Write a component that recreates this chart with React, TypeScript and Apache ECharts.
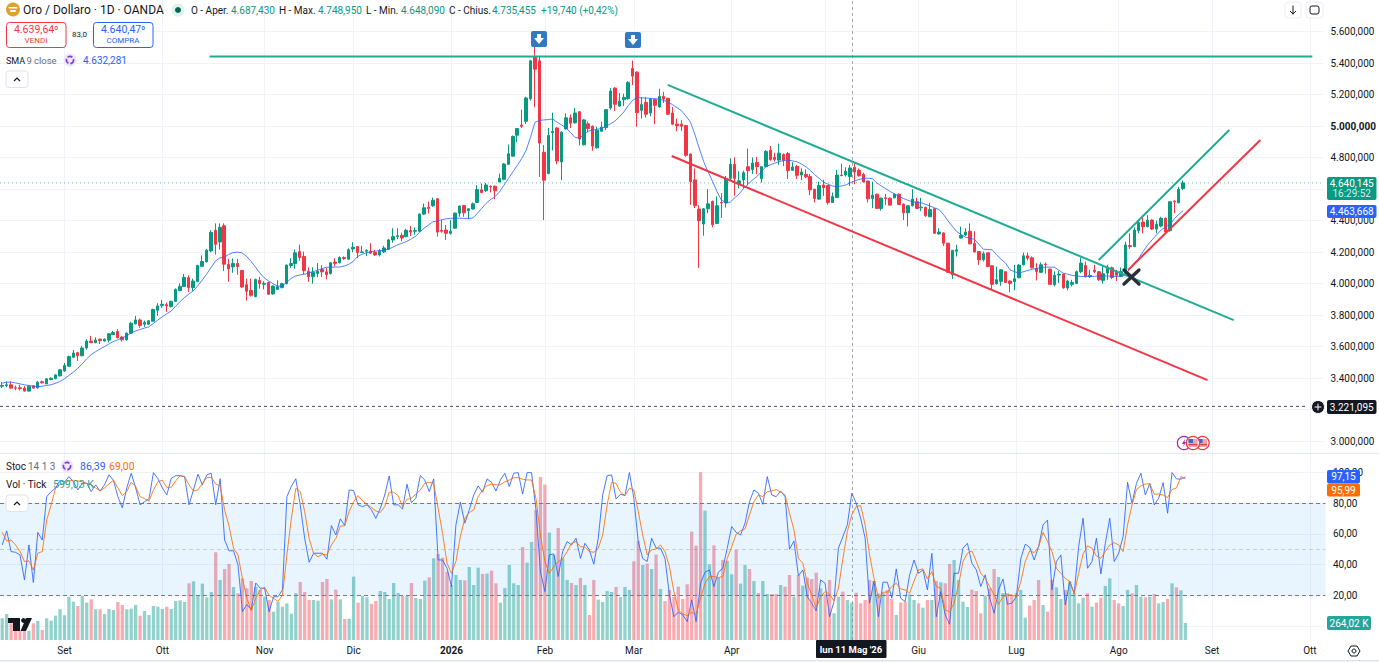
import React, { useEffect, useRef } from "react";
import * as echarts from "echarts";

const opens = [
3349,3354,3358,3339,3339,3337,3318,3352,3339,3377,
3364,3392,3398,3415,3446,3476,3533,3562,3543,3592,
3636,3625,3648,3636,3642,3678,3697,3661,3644,3686,
3745,3770,3743,3743,3762,3832,3861,3867,3855,3888,
3956,3983,4038,3975,4015,4111,4139,4208,4339,4265,
4368,4122,4107,4128,4084,3994,3958,3918,4021,3996,
4008,3935,3964,3975,4000,4116,4128,4204,4173,4079,
4044,4065,4090,4075,4065,4137,4133,4167,4156,4221,
4236,4198,4206,4206,4198,4183,4202,4219,4278,4299,
4307,4299,4337,4333,4333,4442,4486,4495,4539,4339,
4341,4320,4352,4448,4497,4463,4474,4516,4596,4590,
4619,4619,4646,4663,4758,4810,4943,5008,5031,5175,
5440,5415,4834,4699,4958,4989,4773,4983,5053,5021,
5092,4882,5015,5000,4863,4968,4991,5116,5242,5128,
5168,5175,5366,5343,5101,5151,5084,5170,5122,5189,
5177,5084,5013,5013,5004,4823,4659,4474,4379,4476,
4522,4383,4516,4512,4669,4758,4634,4659,4743,4726,
4770,4667,4743,4848,4802,4785,4821,4827,4720,4745,
4690,4695,4680,4600,4537,4627,4623,4516,4547,4690,
4690,4680,4739,4720,4695,4652,4541,4568,4478,4545,
4543,4545,4568,4505,4450,4495,4520,4482,4484,4425,
4476,4316,4322,4257,4057,4206,4290,4309,4333,4255,
4204,4152,4196,4114,4000,4015,4076,4017,4013,4038,
4120,4177,4164,4097,4072,4124,4093,3994,4055,4061,
3973,3996,4002,4076,4116,4046,4086,4076,4021,4067,
4101,4074,4046,4067,4242,4236,4337,4391,4362,4404,
4347,4366,4415,4337,4524,4514,4604];

const closes = [
3354,3358,3337,3337,3335,3318,3349,3337,3375,3371,
3396,3400,3421,3453,3480,3537,3560,3543,3592,3636,
3625,3642,3638,3648,3682,3690,3657,3644,3686,3749,
3770,3735,3754,3764,3836,3859,3869,3859,3888,3964,
3983,4040,3975,4017,4116,4141,4213,4326,4250,4358,
4124,4095,4128,4109,3979,3952,3926,4027,4000,4002,
3933,3985,3981,4000,4118,4128,4196,4166,4083,4044,
4073,4079,4075,4058,4133,4129,4167,4160,4215,4231,
4198,4202,4211,4194,4183,4208,4227,4278,4299,4305,
4290,4339,4328,4337,4442,4482,4478,4530,4328,4333,
4320,4333,4448,4493,4450,4476,4507,4598,4579,4627,
4615,4590,4669,4760,4825,4935,4985,5000,5179,5415,
5362,4893,4657,4941,4966,4779,4962,5053,5019,5084,
4918,5040,4985,4874,4975,4994,5105,5223,5139,5160,
5183,5278,5318,5086,5137,5076,5172,5133,5189,5172,
5076,5013,5002,5000,4815,4648,4495,4400,4476,4507,
4375,4495,4512,4665,4758,4669,4653,4705,4718,4766,
4743,4743,4840,4787,4789,4829,4783,4718,4741,4688,
4709,4678,4596,4541,4623,4610,4516,4554,4690,4686,
4714,4735,4709,4686,4646,4539,4562,4478,4543,4541,
4499,4568,4503,4450,4495,4537,4478,4486,4431,4471,
4320,4328,4257,4072,4211,4215,4307,4328,4253,4202,
4152,4190,4110,3996,4025,4088,4008,4002,4032,4118,
4177,4162,4101,4078,4120,4120,3996,4053,4061,3973,
4017,4008,4076,4131,4044,4053,4076,4025,4063,4105,
4040,4053,4076,4246,4236,4341,4387,4362,4404,4347,
4377,4415,4328,4520,4520,4600,4640];

const highs = [
3375,3379,3379,3354,3358,3350,3354,3354,3383,3385,
3400,3406,3425,3459,3497,3543,3579,3568,3606,3648,
3669,3659,3652,3652,3686,3701,3712,3669,3690,3758,
3796,3779,3766,3768,3842,3876,3897,3880,3892,3970,
4002,4061,4053,4032,4120,4179,4221,4339,4383,4383,
4383,4158,4160,4158,4084,4032,4032,4032,4044,4015,
4011,3989,4021,4006,4122,4162,4217,4248,4204,4104,
4104,4131,4117,4100,4138,4162,4173,4173,4225,4263,
4240,4240,4219,4257,4215,4219,4240,4284,4352,4352,
4324,4349,4366,4358,4446,4509,4522,4547,4543,4404,
4372,4404,4452,4497,4499,4476,4516,4625,4636,4640,
4623,4623,4699,4766,4884,4941,4989,5105,5187,5419,
5509,5440,4880,4989,5086,4994,4968,5082,5074,5116,
5095,5046,5029,5004,4996,5029,5109,5242,5248,5210,
5206,5286,5417,5349,5185,5185,5179,5175,5238,5217,
5181,5122,5048,5038,5008,4827,4732,4499,4480,4600,
4528,4554,4575,4684,4796,4802,4714,4718,4859,4802,
4806,4747,4848,4874,4832,4890,4827,4836,4772,4753,
4732,4726,4697,4600,4648,4659,4627,4579,4722,4762,
4739,4754,4768,4732,4705,4654,4648,4572,4547,4570,
4547,4573,4573,4510,4500,4600,4545,4545,4490,4513,
4480,4352,4326,4260,4215,4247,4362,4352,4383,4333,
4208,4204,4198,4118,4109,4092,4080,4021,4120,4124,
4198,4198,4173,4130,4135,4135,4095,4078,4082,4061,
4025,4025,4084,4166,4141,4088,4120,4080,4114,4120,
4109,4088,4103,4267,4320,4358,4400,4435,4435,4408,
4400,4425,4421,4524,4530,4615,4655];

const lows = [
3337,3343,3333,3324,3322,3316,3316,3333,3333,3365,
3362,3387,3392,3411,3442,3472,3529,3510,3539,3581,
3623,3623,3617,3632,3627,3674,3653,3632,3638,3682,
3741,3720,3726,3739,3760,3796,3846,3821,3848,3884,
3952,3979,3947,3954,4011,4107,4135,4200,4185,4217,
4080,4013,4069,4057,3973,3893,3918,3914,3968,3964,
3933,3931,3964,3971,3996,4101,4095,4146,4062,4012,
4000,4042,4042,4027,4058,4110,4129,4150,4152,4200,
4164,4194,4175,4190,4177,4173,4194,4215,4261,4282,
4269,4295,4303,4311,4328,4436,4446,4488,4299,4324,
4278,4311,4349,4425,4425,4410,4471,4514,4573,4583,
4579,4537,4644,4657,4754,4808,4898,4989,5015,5162,
5120,4678,4404,4695,4846,4758,4657,4979,4989,5017,
4878,4878,4962,4844,4857,4966,4975,5105,5097,5122,
5128,5168,5261,4996,5048,5055,5063,5013,5118,5147,
5071,5006,4968,4970,4806,4501,4480,4101,4305,4448,
4358,4379,4417,4484,4659,4558,4606,4606,4627,4697,
4695,4642,4739,4781,4775,4754,4747,4665,4718,4665,
4657,4670,4562,4516,4533,4558,4501,4512,4543,4684,
4680,4621,4631,4680,4642,4516,4480,4476,4465,4500,
4495,4543,4499,4404,4364,4490,4475,4461,4425,4423,
4316,4312,4240,4068,4030,4173,4286,4303,4250,4198,
4120,4141,4105,3966,3994,3987,4004,3945,3958,4034,
4116,4147,4097,4021,4067,4063,3994,3983,4004,3968,
3958,3983,3998,4067,4040,4036,4067,4017,4000,4025,
4029,4017,4042,4063,4221,4232,4320,4320,4358,4341,
4320,4358,4324,4330,4448,4510,4594];

const smaValues = [
3368,3375,3375,3370,3364,3358,3354,3349,3347,3349,
3354,3358,3368,3379,3396,3417,3438,3463,3490,3522,
3549,3568,3585,3600,3617,3632,3644,3655,3669,3686,
3699,3709,3718,3726,3747,3768,3789,3808,3825,3855,
3884,3911,3933,3954,3985,4021,4059,4101,4143,4164,
4168,4185,4198,4200,4196,4175,4143,4107,4069,4038,
4017,4000,3985,3985,4006,4032,4048,4055,4060,4068,
4077,4085,4095,4104,4105,4105,4106,4112,4122,4140,
4172,4186,4196,4203,4207,4210,4214,4219,4232,4246,
4256,4267,4282,4299,4325,4352,4372,4393,4398,4406,
4412,4415,4414,4416,4415,4414,4417,4446,4478,4510,
4535,4552,4583,4625,4667,4709,4750,4794,4846,4930,
5025,5036,5040,5042,5046,5025,5008,4989,4960,4930,
4924,4945,4968,4975,4981,4985,5000,5015,5032,5059,
5090,5130,5164,5181,5180,5179,5176,5174,5172,5163,
5154,5136,5118,5098,5065,5027,4950,4860,4775,4710,
4650,4585,4530,4516,4518,4545,4570,4605,4630,4660,
4680,4712,4743,4755,4765,4775,4782,4785,4780,4775,
4760,4743,4720,4692,4670,4645,4632,4620,4617,4620,
4627,4640,4652,4662,4668,4670,4667,4640,4620,4604,
4585,4570,4555,4541,4530,4520,4516,4514,4504,4493,
4482,4471,4440,4400,4365,4331,4312,4295,4288,4282,
4250,4219,4217,4215,4183,4155,4131,4088,4076,4067,
4076,4084,4092,4097,4102,4105,4105,4105,4086,4067,
4060,4053,4049,4046,4046,4046,4047,4049,4050,4049,
4047,4046,4050,4057,4095,4130,4162,4205,4246,4278,
4309,4340,4360,4373,4412,4440,4463.668];

const stochK = [
52.8,62,48.5,48,46.3,30,52.8,28.3,61,56,
84.3,87.6,90,95,93.7,97.4,94,88.7,93,93,
87.6,92,88,92,98.5,95,84.3,77,90,99.6,
90,79,81,83,100,96,90,85.4,96.3,98,
98,97.4,79,88.7,99,92,98.5,99.6,79,96,
56,49,49,40,9.3,14,10.4,28,24.6,24.6,
9.3,19,19,23.5,84.3,91,96,79,57,41.5,
47.4,47.4,47.4,43.5,65.4,59.3,69.8,65.4,88.7,88.3,
79,77.8,79,75.7,70.2,76.7,85.4,97.8,79,79,
76.3,92.4,80.4,83.3,98,95.2,87.6,95.9,43,43,
37.6,25.7,65.9,80.7,67,75.7,85.4,91.3,87.2,95.9,
93.7,88,95.2,99.6,90.9,99.6,100,86,100,100,
75.7,35.4,22.4,46.3,47,32.2,48.5,55,52.8,57.2,
44,53.9,49.6,40.2,57.2,85.4,98,98.5,82.8,85.9,
85,100,83.3,54.6,44,42,57.2,50.7,50.7,44,
20.2,6,8.9,7.2,2.8,17,2.8,27.8,35,36.5,
25.7,35,37.6,50.7,64.8,61,59.3,67,81,88.7,
86.5,79.3,97.4,85.4,84.3,88,84.3,50,55.4,32.8,
36.5,19,14.8,9.8,30,27.8,6,15.9,50.7,58.3,
65.9,86.5,80,70.2,57.2,14.8,29.3,6,28.5,28.5,
18,37.2,18,15.9,33.3,43,34.3,36.5,23.5,47.4,
6,22.4,7.2,1.1,34.3,34.3,50.7,53.9,40.9,36.5,
25.7,33.3,18,8.3,23.5,30.6,14.1,14.8,19,44,
53.3,51.3,43,51.7,65.9,69,23.5,42,46.3,13.7,
29,21.3,51.7,70.2,37.6,42,57.2,33.9,53.9,70.2,
42,47.4,58.3,93.7,80,93,99.6,85.4,93,78.9,
83.3,93.5,73.5,100,95.9,95.7,97.15];

const stochD = [
61,55.4,56,52.8,48.5,42,42.4,36.5,47.4,48.5,
69,79,90,92.4,93,94.6,95,94.6,94,93,
92,90,88,90,92.6,95,90,85,87.6,93.7,
91,84.3,83,81.5,88.7,94,95,90.4,90.4,94.6,
98,97.4,92,88,88.7,93,96.7,97,92.6,91.3,
75.7,65,50.7,46.3,31,18,10,18,23.5,25.2,
20,18,16,20,46.3,70,89.8,87.6,74.6,57,
47.4,45,46.7,46.3,52.8,57,65,65.4,74.6,81,
85,81.5,79.3,77.2,75,74,77.8,87.2,87.2,85,
77.8,82.6,83.3,85.9,88.7,93,93.7,93,76.7,60.4,
40.9,34.3,42,58.3,70.2,73.9,75.7,84.3,88.7,91.5,
92.4,92,92,94,95.2,96.7,96.7,95.7,95.2,95.2,
83.3,59.3,42,34.3,38.7,42,43.7,48.5,53.9,55,
51.7,51.3,48.5,48,50.7,59.3,79,93.7,93,87.2,
85,89.8,88.7,74.6,59.3,46.3,49.6,50.2,52.8,48.5,
38.7,22.4,10.4,7.8,6.7,8.9,7.6,18,27.8,32.2,
32.2,31.5,32.2,44,51.7,59.8,62,63.3,72.4,81,
85.4,84.3,87.6,88,89,87.2,85.4,73.5,62.6,44,
40.9,27.8,20.2,11.5,19,22.4,20.7,16.3,24.6,44,
61.5,72.4,77.8,78.5,65.9,46.3,31,18,22,22,
25.7,27.8,24.1,23.5,21.3,29.3,36.5,37.2,30.6,35.4,
25.7,24.6,10.4,9.3,14.8,26.7,42,47.4,48.9,42,
34.3,31,25.7,20.2,14.1,19,20.2,20.2,19,28.9,
42,49,47.8,51.7,61,55,48.5,37.6,34.3,31,
29,20.9,34.3,47,52.2,50.7,45.6,44.1,48.5,52.8,
54.3,52.8,48.5,65.9,78.9,89,91.3,92.6,92.6,85.9,
86,85.4,83.7,89,90,97.4,95.99];

const volumes = [
336,403,259,243,140,140,140,259,295,155,
336,300,377,476,383,672,595,527,682,579,
631,476,476,403,481,465,589,543,476,486,
543,377,450,388,527,517,481,517,481,605,
615,589,879,910,698,874,662,744,1360,931,
1101,1179,822,724,956,801,915,827,776,672,
620,439,595,517,569,408,724,900,744,620,
620,610,900,946,631,781,631,326,331,982,
579,682,662,558,605,760,744,636,884,729,
682,682,884,651,636,920,972,1267,1334,1277,
1060,853,1008,931,925,1132,853,1122,1024,1029,
1075,879,579,807,1163,879,853,1442,1199,1520,
2016,2528,2409,1665,1318,1737,1267,931,884,853,
962,853,388,931,626,589,760,744,822,667,
822,776,1220,1535,1163,1184,1101,1324,791,605,
776,667,827,636,863,1680,1463,2601,2006,1174,
1468,967,1241,1225,1018,1396,874,1163,1101,915,
729,915,713,713,713,853,827,1008,672,1008,
843,967,946,1044,801,708,931,414,672,750,
620,579,734,569,620,931,915,724,734,776,
636,388,579,595,708,620,569,501,620,620,
915,894,879,1179,1241,931,595,512,781,760,
414,688,801,1101,977,729,724,698,724,776,
346,533,620,931,543,439,931,817,636,776,
905,724,569,657,724,517,579,657,838,956,
620,569,527,776,724,853,672,662,672,713,
569,589,636,879,817,770,264.02];

const BAR_SLOTS = 298;
const monthTicks: [number, string][] = [
  [14, "Set"], [36, "Ott"], [59, "Nov"], [79, "Dic"], [101, "2026"], [122, "Feb"], [142, "Mar"],
  [164, "Apr"], [185, "Mag"], [206, "Giu"], [228, "Lug"], [251, "Ago"], [272, "Set"], [294, "Ott"],
];
const hiddenTickLabels = ["Mag"];
const hiddenPriceLabels = [4600, 3200];
const crosshairBar = 191;

// trend lines: [bar position, price]
const resistanceTop: [number, number][] = [[47.2, 5442.7], [295.6, 5442.7]];
const channelUpper: [number, number][] = [[150.4, 5262], [277.9, 3769]];
const channelLower: [number, number][] = [[151.3, 4811], [272, 3388]];
const breakoutUpper: [number, number][] = [[247.5, 4150], [276.9, 4976]];
const breakoutLower: [number, number][] = [[254.1, 4087], [283.9, 4912]];
const lastPriceLine: [number, number][] = [[0, 4640.145], [298, 4640.145]];
const supportLine: [number, number][] = [[0, 3221.095], [294, 3221.095]];

const FONT = "Roboto";
const UP = "#089981";
const DOWN = "#f23645";
const BLUE = "#2962ff";
const ORANGE = "#ff6d00";
const INK = "#131722";
const GRID = "#f0f3fa";
const TEAL = "#22ab94";

const GRID_X = { left: -2, width: 1327.5 };

const itPrice = (v: number) => {
  const s = v.toFixed(3).replace(".", ",");
  return s.replace(/^(\d)(\d{3})/, "$1.$2");
};

function text(x: number, y: number, t: string, size: number, fill: string, extra: any = {}) {
  return {
    type: "text", z: 60, x, y, silent: true,
    style: { text: t, fill, fontSize: size, fontFamily: FONT, verticalAlign: "middle", align: "left", ...extra },
  };
}
function box(x: number, y: number, w: number, h: number, fill: string, stroke?: string, r = 2, z = 55) {
  return {
    type: "rect", z, silent: true, shape: { x, y, width: w, height: h, r },
    style: { fill, stroke: stroke || "none", lineWidth: stroke ? 1 : 0 },
  };
}
function seg(x1: number, y1: number, x2: number, y2: number, stroke: string, lineWidth = 1, z = 60) {
  return {
    type: "line", z, silent: true, shape: { x1, y1, x2, y2 },
    style: { stroke, lineWidth, lineCap: "round" },
  };
}
function poly(points: number[][], fill: string, z = 61) {
  return { type: "polygon", z, silent: true, shape: { points }, style: { fill } };
}
function stroked(points: number[][], stroke: string, lineWidth = 1.2, z = 61) {
  return { type: "polyline", z, silent: true, shape: { points }, style: { stroke, lineWidth, fill: "none" } };
}
function circle(cx: number, cy: number, r: number, fill: string, stroke?: string, lineWidth = 1, z = 58, dash?: number[]) {
  return {
    type: "circle", z, silent: true, shape: { cx, cy, r },
    style: { fill, stroke: stroke || "none", lineWidth, lineDash: dash },
  };
}
function flagBadge(cx: number, cy: number, z: number) {
  return [
    circle(cx, cy, 6.6, "#ffffff", "#f23645", 1.3, z),
    box(cx - 4.5, cy - 4, 9, 8, "#f7a0a8", undefined, 1, z + 0.1),
    box(cx - 4.5, cy - 4, 4.5, 4, "#3f66c4", undefined, 0, z + 0.2),
    box(cx - 4.5, cy + 1, 9, 1.2, "#e53945", undefined, 0, z + 0.2),
  ];
}
function arrowFlag(cx: number, cy: number) {
  return [
    box(cx - 8, cy - 8, 16, 16, "#3179c0", undefined, 2, 58),
    poly([[cx - 2, cy - 5], [cx + 2, cy - 5], [cx + 2, cy - 1], [cx + 5, cy - 1], [cx, cy + 5], [cx - 5, cy - 1], [cx - 2, cy - 1]], "#ffffff"),
  ];
}
function collapseButton(x: number, y: number) {
  return [
    box(x, y, 22, 16.5, "#ffffff", "#e0e3eb", 3, 58),
    stroked([[x + 8, y + 10], [x + 11, y + 7], [x + 14, y + 10]], INK, 1.2),
  ];
}
function syncIcon(cx: number, cy: number) {
  return [
    circle(cx, cy, 6.5, "#efe6f8", undefined, 1, 58),
    circle(cx, cy, 3.6, "none", "#7b3fd1", 1.6, 59, [5, 1.8]),
  ];
}

const graphicElements: any[] = [
  // header
  circle(13, 9.5, 7, "#dba32c", undefined, 1, 58),
  box(8.5, 7, 9, 1.5, "#ffffff", undefined, 1, 59),
  box(10, 10, 6, 2, "#ffffff", undefined, 1, 59),
  text(23, 10, "Oro / Dollaro · 1D · OANDA", 12, INK),
  circle(178, 10, 6.5, "#dff2ee", undefined, 1, 58),
  circle(178, 10, 3, "#056656", undefined, 1, 59),
  text(191, 10, "O - Aper.", 10, INK),
  text(231, 10, "4.687,430", 10, UP),
  text(279, 10, "H - Max.", 10, INK),
  text(318, 10, "4.748,950", 10, UP),
  text(366, 10, "L - Min.", 10, INK),
  text(401, 10, "4.648,090", 10, UP),
  text(449, 10, "C - Chius.", 10, INK),
  text(492, 10, "4.735,455", 10, UP),
  text(541, 10, "+19,740 (+0,42%)", 10, UP),
  // sell / buy
  box(6.5, 22.5, 59.5, 25, "#ffffff", DOWN, 3),
  text(36, 29.5, "4.639,64⁰", 10.5, DOWN, { align: "center" }),
  text(36, 40.5, "VENDI", 8, DOWN, { align: "center" }),
  text(72, 34.5, "83,0", 8, INK),
  box(93.5, 22.5, 59.5, 25, "#ffffff", BLUE, 3),
  text(123, 29.5, "4.640,47⁰", 10.5, BLUE, { align: "center" }),
  text(123, 40.5, "COMPRA", 8, BLUE, { align: "center" }),
  // SMA legend
  text(6, 60.5, "SMA", 9, INK),
  text(26.5, 60.5, "9", 9.5, "#6a6d78"),
  text(34, 60.5, "close", 9.5, "#6a6d78"),
  ...syncIcon(70, 60),
  text(83, 60.5, "4.632,281", 10, BLUE),
  ...collapseButton(6, 71),
  // top-right buttons
  box(1285, 2, 16, 16, "#ffffff", "#eceef2", 3, 58),
  seg(1293, 6, 1293, 14, INK, 1),
  stroked([[1290, 11], [1293, 14], [1296, 11]], INK, 1),
  box(1306, 2, 17, 16, "#ffffff", "#eceef2", 3, 58),
  box(1310, 6, 9, 8, "#ffffff", INK, 2, 59),
  // event marks on the price chart
  ...arrowFlag(539, 39),
  ...arrowFlag(633, 40),
  seg(1124, 270, 1139, 284, "#2a2e39", 3.4),
  seg(1139, 270, 1124, 284, "#2a2e39", 3.4),
  circle(1184, 443, 6.6, "#ffffff", "#9c27b0", 1.2, 58),
  poly([[1185, 439], [1182, 444], [1184, 444], [1183, 447], [1186, 442], [1184.5, 442]], "#9c27b0", 59),
  ...flagBadge(1193, 443, 59),
  ...flagBadge(1202.5, 443, 58.5),
  // price tags
  box(1327, 177, 49.5, 23, UP),
  text(1351.7, 183, "4.640,145", 10, "#ffffff", { align: "center" }),
  text(1351.7, 193.5, "16:29:52", 10, "#cfeee8", { align: "center" }),
  box(1327, 205, 49.5, 13, BLUE),
  text(1351.7, 211.5, "4.463,668", 10, "#ffffff", { align: "center" }),
  circle(1318, 407, 6.5, "#131722", "#ffffff", 1, 58),
  seg(1315, 407, 1321, 407, "#ffffff", 1),
  seg(1318, 404, 1318, 410, "#ffffff", 1),
  box(1327, 400, 49.5, 14, "#131722"),
  text(1351.7, 407.2, "3.221,095", 10, "#ffffff", { align: "center" }),
  // Stoch legend
  text(6, 466, "Stoc", 10, INK),
  text(28, 466, "14 1 3", 10, "#6a6d78"),
  ...syncIcon(67, 466),
  text(80, 466, "86,39", 10.5, BLUE),
  text(109, 466, "69,00", 10.5, ORANGE),
  text(6, 484.5, "Vol · Tick", 10, INK),
  text(53, 484.5, "599,03 K", 10.5, "#26a69a"),
  ...collapseButton(6, 495),
  // indicator tags
  box(1327, 470, 33, 13.4, BLUE),
  text(1343.5, 476.9, "97,15", 10, "#ffffff", { align: "center" }),
  box(1327, 483.4, 33, 13, ORANGE),
  text(1343.5, 490, "95,99", 10, "#ffffff", { align: "center" }),
  box(1327, 616, 44, 14, "#26a69a"),
  text(1349, 623.2, "264,02 K", 10, "#ffffff", { align: "center" }),
  // crosshair date
  box(816, 640, 70.5, 18, "#131722", undefined, 1),
  text(851, 649.5, "lun 11 Mag '26", 9.5, "#ffffff", { align: "center", fontWeight: "bold" }),
  // logo
  poly([[8, 618], [20, 618], [20, 631], [13, 631], [13, 623], [8, 623]], INK),
  circle(23.5, 620.5, 2.4, INK, undefined, 1, 61),
  poly([[26, 618], [32, 618], [26, 631], [20.5, 631]], INK),
  // gear
  poly([[1348, 651], [1351, 646], [1357, 646], [1360, 651], [1357, 656], [1351, 656]], "#ffffff"),
  stroked([[1348, 651], [1351, 646], [1357, 646], [1360, 651], [1357, 656], [1351, 656], [1348, 651]], INK, 1),
  circle(1354, 651, 2, "#ffffff", INK, 1, 62),
  // pane separators
  seg(0, 453.3, 1379, 453.3, "#e0e3eb", 1, 1),
  seg(0, 660.7, 1379, 660.7, "#e0e3eb", 1.4, 1),
];

const trendSeries = (name: string, data: [number, number][], color: string, width: number, type: any = "solid") => ({
  name, type: "line", xAxisIndex: 1, yAxisIndex: 0, data, showSymbol: false, silent: true, z: 6,
  lineStyle: { color, width, type }, itemStyle: { color }, animation: false, clip: false,
});

function buildOption() {
  const slots = Array.from({ length: BAR_SLOTS }, (_, i) => String(i));
  const labels = Array.from({ length: BAR_SLOTS }, () => "");
  monthTicks.forEach(([i, t]) => { if (!hiddenTickLabels.includes(t)) labels[i] = t; });
  const candles = opens.map((o, i) => [o, closes[i], lows[i], highs[i]]);
  const volBars = volumes.map((v, i) => ({
    value: v,
    itemStyle: { color: closes[i] >= opens[i] ? "rgba(38,166,154,0.5)" : "rgba(242,54,69,0.42)" },
  }));
  const blank = slots.map(() => null);

  return {
    animation: false,
    backgroundColor: "#ffffff",
    textStyle: { fontFamily: FONT },
    grid: [
      { ...GRID_X, top: 31.7, height: 409.5 },
      { ...GRID_X, top: 472.6, height: 153.3 },
      { ...GRID_X, top: 446.5, height: 193.5 },
      { ...GRID_X, top: 0, height: 640 },
    ],
    xAxis: [
      { type: "category", gridIndex: 0, data: slots, show: false },
      { type: "value", gridIndex: 0, min: 0, max: BAR_SLOTS, show: false },
      { type: "category", gridIndex: 1, data: slots, show: false },
      { type: "category", gridIndex: 2, data: slots, show: false },
      {
        type: "category", gridIndex: 3, data: labels,
        axisLine: { show: false }, axisTick: { show: false }, splitLine: { show: false },
        axisLabel: {
          interval: (i: number) => labels[i] !== "",
          margin: 5, fontSize: 10, color: INK, fontFamily: FONT,
          formatter: (v: string) => (v === "2026" ? "{b|2026}" : v),
          rich: { b: { fontWeight: "bold", fontSize: 10, fontFamily: FONT, color: INK } },
        },
      },
    ],
    yAxis: [
      {
        type: "value", gridIndex: 0, position: "right", min: 3000, max: 5600, interval: 200,
        axisLine: { show: false }, axisTick: { show: false },
        splitLine: { show: true, lineStyle: { color: GRID, width: 1 } },
        axisLabel: {
          margin: 7.5, fontSize: 10, color: INK, fontFamily: FONT,
          formatter: (v: number) =>
            hiddenPriceLabels.includes(v) ? "" : v === 5000 ? `{b|${itPrice(v)}}` : itPrice(v),
          rich: { b: { fontWeight: "bold", fontSize: 10, fontFamily: FONT, color: INK } },
        },
      },
      {
        type: "value", gridIndex: 1, position: "right", min: 0, max: 100, interval: 20,
        axisLine: { show: false }, axisTick: { show: false },
        splitLine: { show: true, lineStyle: { color: GRID, width: 1 } },
        axisLabel: {
          margin: 7.5, fontSize: 10, color: INK, fontFamily: FONT,
          formatter: (v: number) => (v === 0 ? "" : v.toFixed(2).replace(".", ",")),
        },
      },
      { type: "value", gridIndex: 2, min: 0, max: 3000, show: false },
      { type: "value", gridIndex: 3, min: 0, max: 1, show: false },
    ],
    series: [
      {
        name: "Month lines", type: "line", xAxisIndex: 4, yAxisIndex: 3, data: blank, z: 0, silent: true,
        showSymbol: false,
        markLine: {
          silent: true, symbol: "none", z: 0, animation: false, label: { show: false },
          lineStyle: { color: GRID, width: 1, type: "solid" },
          data: monthTicks.map(([i]) => ({ xAxis: i })),
        },
      },
      {
        name: "Crosshair", type: "line", xAxisIndex: 4, yAxisIndex: 3, data: blank, z: 1, silent: true,
        showSymbol: false,
        markLine: {
          silent: true, symbol: "none", z: 1, animation: false, label: { show: false },
          lineStyle: { color: "#a8abb3", width: 1, type: [3, 3] },
          data: [{ xAxis: crosshairBar }],
        },
      },
      {
        name: "Oro / Dollaro", type: "candlestick", xAxisIndex: 0, yAxisIndex: 0, data: candles,
        barWidth: 3, z: 3, silent: true,
        itemStyle: { color: UP, color0: DOWN, borderColor: UP, borderColor0: DOWN, borderWidth: 1 },
      },
      {
        name: "SMA 9", type: "line", xAxisIndex: 0, yAxisIndex: 0, data: smaValues, showSymbol: false, z: 4, silent: true,
        lineStyle: { color: BLUE, width: 1, opacity: 0.8 }, itemStyle: { color: BLUE },
      },
      trendSeries("Massimo", resistanceTop, TEAL, 2),
      trendSeries("Canale alto", channelUpper, TEAL, 2),
      trendSeries("Canale basso", channelLower, DOWN, 2),
      trendSeries("Rottura alta", breakoutUpper, TEAL, 2),
      trendSeries("Rottura bassa", breakoutLower, DOWN, 2),
      trendSeries("Ultimo prezzo", lastPriceLine, "rgba(8,153,129,0.6)", 1, [1, 3]),
      trendSeries("Supporto", supportLine, "#4a4e5a", 1, [3, 3]),
      {
        name: "Vol", type: "bar", xAxisIndex: 3, yAxisIndex: 2, data: volBars, barWidth: 3.3, z: 1, silent: true,
      },
      {
        name: "%K", type: "line", xAxisIndex: 2, yAxisIndex: 1, data: stochK, showSymbol: false, z: 4, silent: true,
        lineStyle: { color: BLUE, width: 1, opacity: 0.85 }, itemStyle: { color: BLUE },
        markArea: {
          silent: true, z: 2, animation: false, label: { show: false },
          itemStyle: { color: "rgba(33,150,243,0.1)" },
          data: [[{ yAxis: 80 }, { yAxis: 20 }]],
        },
        markLine: {
          silent: true, symbol: "none", z: 3, animation: false, label: { show: false },
          data: [
            { yAxis: 80, lineStyle: { color: "#787b86", width: 1, type: [4, 3] } },
            { yAxis: 50, lineStyle: { color: "rgba(120,123,134,0.3)", width: 1, type: [4, 3] } },
            { yAxis: 20, lineStyle: { color: "#787b86", width: 1, type: [4, 3] } },
          ],
        },
      },
      {
        name: "%D", type: "line", xAxisIndex: 2, yAxisIndex: 1, data: stochD, showSymbol: false, z: 5, silent: true,
        lineStyle: { color: ORANGE, width: 1, opacity: 0.85 }, itemStyle: { color: ORANGE },
      },
    ],
    graphic: { elements: graphicElements },
  };
}

export default function App() {
  const ref = useRef<HTMLDivElement>(null);
  useEffect(() => {
    const chart = echarts.init(ref.current as HTMLDivElement, undefined, { renderer: "svg" });
    chart.setOption(buildOption() as any);
    return () => chart.dispose();
  }, []);
  return (
    <div
      ref={ref}
      style={{ position: "absolute", left: 0, top: 0, width: 1379, height: 662, background: "#ffffff" }}
    />
  );
}
